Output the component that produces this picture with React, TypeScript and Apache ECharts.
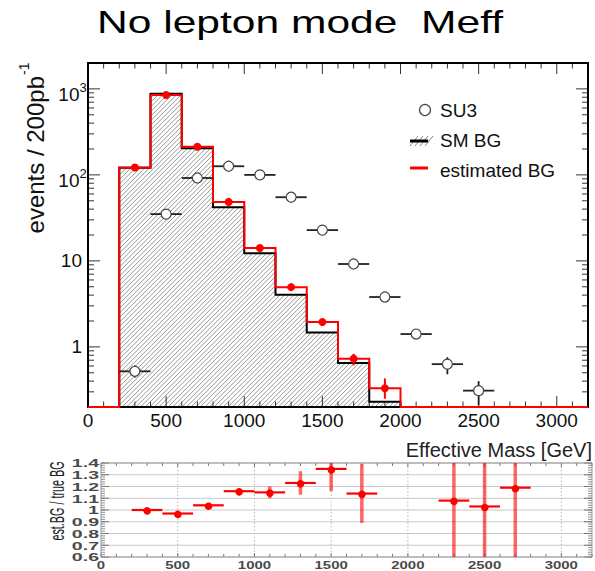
import React, { useEffect, useRef } from "react";
import * as echarts from "echarts";

// ---------------- data ----------------
const binEdges = [200, 400, 600, 800, 1000, 1200, 1400, 1600, 1800, 2000];
const smBG = [121, 880, 204, 42, 12.3, 4.05, 1.47, 0.65, 0.23];
const estBG = [122, 850, 212, 48.5, 14.1, 4.95, 1.95, 0.73, 0.33];
const estBGCenters = [300, 500, 700, 900, 1100, 1300, 1500, 1700, 1900];
const estBGErrLow = [0, 0, 0, 0, 0, 0, 0.05, 0.12, 0.08];
const estBGErrHigh = [0, 0, 0, 0, 0, 0, 0.05, 0.1, 0.1];

const su3X = [300, 500, 700, 900, 1100, 1300, 1500, 1700, 1900, 2100, 2300, 2500];
const su3Y = [0.52, 35, 92, 126, 100, 55, 22.8, 9.2, 3.8, 1.41, 0.63, 0.31];
const su3Low = [0.44, 33, 88, 121, 96, 52, 21.5, 8.5, 3.5, 1.25, 0.48, 0.21];
const su3High = [0.61, 37, 96, 131, 104, 58, 24.1, 9.9, 4.1, 1.57, 0.76, 0.4];
const su3XErr = [100, 100, 100, 100, 100, 100, 100, 100, 100, 100, 100, 100];

const ratioX = [300, 500, 700, 900, 1100, 1300, 1500, 1700, 2300, 2500, 2700];
const ratioY = [1.0, 0.97, 1.04, 1.16, 1.15, 1.23, 1.35, 1.14, 1.08, 1.03, 1.19];
const ratioErr = [0.01, 0.01, 0.012, 0.02, 0.05, 0.1, 0.19, 0.25, 1.2, 1.2, 1.2];
const ratioXErr = [100, 100, 100, 100, 100, 100, 100, 100, 100, 100, 100];

const xTickLabels = [0, 500, 1000, 1500, 2000, 2500, 3000];
const mainYTicks = [1, 10, 100, 1000];
const mainYTickBase = ["1", "10", "10", "10"];
const mainYTickExp = ["", "", "2", "3"];
const ratioYTicks = [0.6, 0.7, 0.8, 0.9, 1.0, 1.1, 1.2, 1.3, 1.4];
const ratioYTickLabels = ["0.6", "0.7", "0.8", "0.9", "1", "1.1", "1.2", "1.3", "1.4"];

const X_MIN = 0;
const X_MAX = 3200;
const MAIN_Y_MIN = 0.2;
const MAIN_Y_MAX = 2000;
const RATIO_Y_MIN = 0.6;
const RATIO_Y_MAX = 1.4;

// minor tick positions
const xMinorTicks: number[] = [];
for (let v = X_MIN; v <= X_MAX; v += 100) xMinorTicks.push(v);
const mainYMinorTicks: number[] = [];
[0.1, 1, 10, 100, 1000].forEach((d) => {
  for (let m = 2; m <= 9; m++) {
    const v = m * d;
    if (v >= MAIN_Y_MIN && v <= MAIN_Y_MAX) mainYMinorTicks.push(v);
  }
});
const ratioYMinorTicks: number[] = [];
for (let k = 30; k <= 70; k++) ratioYMinorTicks.push(k * 0.02);

const FONT = '"Liberation Sans", Arial, Helvetica, sans-serif';

// ---------------- helpers ----------------
const lineEl = (x1: number, y1: number, x2: number, y2: number, stroke: string, lw: number, dash?: number[]) => ({
  type: "line",
  shape: { x1, y1, x2, y2 },
  style: { stroke, lineWidth: lw, lineDash: dash || null },
  silent: true,
});

const textEl = (x: number, y: number, text: string, o: any) => ({
  type: "text",
  x,
  y,
  scaleX: o.scaleX ?? 1,
  scaleY: o.scaleY ?? 1,
  rotation: o.rotation ?? 0,
  silent: true,
  style: {
    text,
    fill: o.fill ?? "#111",
    textFill: o.fill ?? "#111",
    fontSize: o.fontSize,
    fontFamily: FONT,
    fontWeight: o.fontWeight ?? "normal",
    textAlign: o.align ?? "center",
    align: o.align ?? "center",
    textVerticalAlign: o.vAlign ?? "middle",
    verticalAlign: o.vAlign ?? "middle",
  },
});

const isMajorX = (v: number) => xTickLabels.indexOf(v) >= 0;

// ---------------- render functions ----------------
function hatchRender(params: any, api: any) {
  const cs = params.coordSys;
  const B = cs.y + cs.height;
  const children: any[] = [];
  const s = 4.6;
  for (let i = 0; i < smBG.length; i++) {
    const p0 = api.coord([binEdges[i], smBG[i]]);
    const p1 = api.coord([binEdges[i + 1], smBG[i]]);
    const x0 = p0[0];
    const x1 = p1[0];
    const yTop = p0[1];
    const cStart = Math.ceil((x0 + yTop) / s) * s;
    for (let c = cStart; c <= x1 + B; c += s) {
      const lo = Math.max(x0, c - B);
      const hi = Math.min(x1, c - yTop);
      if (hi > lo) children.push(lineEl(lo, c - lo, hi, c - hi, "#8a8a8a", 0.9));
    }
  }
  return { type: "group", children };
}

function stepPoints(values: number[], api: any, B: number, extend: boolean) {
  const pts: number[][] = [];
  if (extend) pts.push([api.coord([X_MIN, MAIN_Y_MIN])[0], B]);
  pts.push([api.coord([binEdges[0], values[0]])[0], B]);
  for (let i = 0; i < values.length; i++) {
    pts.push(api.coord([binEdges[i], values[i]]));
    pts.push(api.coord([binEdges[i + 1], values[i]]));
  }
  pts.push([api.coord([binEdges[values.length], MAIN_Y_MIN])[0], B]);
  if (extend) pts.push([api.coord([X_MAX, MAIN_Y_MIN])[0], B]);
  return pts;
}

function smOutlineRender(params: any, api: any) {
  const cs = params.coordSys;
  const B = cs.y + cs.height;
  return {
    type: "polyline",
    shape: { points: stepPoints(smBG, api, B, false) },
    style: { stroke: "#000", lineWidth: 2, fill: null },
    silent: true,
  };
}

function estOutlineRender(params: any, api: any) {
  const cs = params.coordSys;
  const B = cs.y + cs.height;
  return {
    type: "polyline",
    shape: { points: stepPoints(estBG, api, B, true) },
    style: { stroke: "#ff0000", lineWidth: 2, fill: null },
    silent: true,
  };
}

function su3Render(params: any, api: any) {
  const cs = params.coordSys;
  const B = cs.y + cs.height;
  const children: any[] = [];
  for (let i = 0; i < su3X.length; i++) {
    const c = api.coord([su3X[i], su3Y[i]]);
    const l = api.coord([su3X[i] - su3XErr[i], su3Y[i]]);
    const r = api.coord([su3X[i] + su3XErr[i], su3Y[i]]);
    const lo = Math.min(B, api.coord([su3X[i], su3Low[i]])[1]);
    const hi = api.coord([su3X[i], su3High[i]])[1];
    children.push(lineEl(l[0], c[1], r[0], c[1], "#222", 1.8));
    children.push(lineEl(c[0], lo, c[0], hi, "#222", 1.8));
    children.push({
      type: "circle",
      shape: { cx: c[0], cy: c[1], r: 5 },
      style: { fill: "#fff", stroke: "#444", lineWidth: 1.2 },
      silent: true,
    });
  }
  return { type: "group", children };
}

function estPointsRender(params: any, api: any) {
  const children: any[] = [];
  for (let i = 0; i < estBGCenters.length; i++) {
    const c = api.coord([estBGCenters[i], estBG[i]]);
    if (estBGErrLow[i] > 0 || estBGErrHigh[i] > 0) {
      const lo = api.coord([estBGCenters[i], estBG[i] - estBGErrLow[i]])[1];
      const hi = api.coord([estBGCenters[i], estBG[i] + estBGErrHigh[i]])[1];
      children.push(lineEl(c[0], lo, c[0], hi, "#ff0000", 2));
    }
    children.push({
      type: "circle",
      shape: { cx: c[0], cy: c[1], r: 4 },
      style: { fill: "#ff0000", stroke: null },
      silent: true,
    });
  }
  return { type: "group", children };
}

function mainFrameRender(params: any, api: any) {
  const cs = params.coordSys;
  const L = cs.x;
  const T = cs.y;
  const R = cs.x + cs.width;
  const B = cs.y + cs.height;
  const ch: any[] = [];
  const tc = "#333";
  xMinorTicks.forEach((v) => {
    const px = api.coord([v, MAIN_Y_MIN])[0];
    const len = isMajorX(v) ? 11 : 5.5;
    ch.push(lineEl(px, B, px, B - len, tc, 1));
    ch.push(lineEl(px, T, px, T + len, tc, 1));
  });
  mainYMinorTicks.forEach((v) => {
    const py = api.coord([X_MIN, v])[1];
    ch.push(lineEl(L, py, L + 6, py, tc, 1));
    ch.push(lineEl(R, py, R - 6, py, tc, 1));
  });
  mainYTicks.forEach((v) => {
    const py = api.coord([X_MIN, v])[1];
    ch.push(lineEl(L, py, L + 12, py, tc, 1));
    ch.push(lineEl(R, py, R - 12, py, tc, 1));
  });
  ch.push({
    type: "rect",
    shape: { x: L, y: T, width: R - L, height: B - T },
    style: { fill: null, stroke: "#000", lineWidth: 2 },
    silent: true,
  });
  // labels
  xTickLabels.forEach((v) => {
    const px = api.coord([v, MAIN_Y_MIN])[0];
    ch.push(textEl(px, B + 13, String(v), { fontSize: 19 }));
  });
  mainYTicks.forEach((v, i) => {
    const py = api.coord([X_MIN, v])[1];
    if (mainYTickExp[i]) {
      ch.push(textEl(L - 8.5, py + 6, mainYTickBase[i], { fontSize: 19, align: "right" }));
      ch.push(textEl(L - 8.5, py - 1, mainYTickExp[i], { fontSize: 13, align: "left" }));
    } else {
      ch.push(textEl(L - 6, py, mainYTickBase[i], { fontSize: 19, align: "right" }));
    }
  });
  return { type: "group", children: ch };
}

function ratioGridRender(params: any, api: any) {
  const cs = params.coordSys;
  const L = cs.x;
  const T = cs.y;
  const R = cs.x + cs.width;
  const B = cs.y + cs.height;
  const ch: any[] = [];
  ratioYTicks.forEach((v) => {
    const py = api.coord([X_MIN, v])[1];
    ch.push(lineEl(L, py, R, py, "#c8c8c8", 1));
  });
  xTickLabels.forEach((v) => {
    if (v === X_MIN) return;
    const px = api.coord([v, RATIO_Y_MIN])[0];
    ch.push(lineEl(px, T, px, B, "#b8b8b8", 1, [1.5, 2]));
  });
  return { type: "group", children: ch };
}

function ratioFrameRender(params: any, api: any) {
  const cs = params.coordSys;
  const L = cs.x;
  const T = cs.y;
  const R = cs.x + cs.width;
  const B = cs.y + cs.height;
  const ch: any[] = [];
  const tc = "#777";
  xMinorTicks.forEach((v) => {
    const px = api.coord([v, RATIO_Y_MIN])[0];
    const len = isMajorX(v) ? 4 : 3;
    ch.push(lineEl(px, B, px, B - len, tc, 1));
    ch.push(lineEl(px, T, px, T + len, tc, 1));
  });
  ratioYMinorTicks.forEach((v) => {
    const py = api.coord([X_MIN, v])[1];
    ch.push(lineEl(L, py, L + 4, py, tc, 0.8));
    ch.push(lineEl(R, py, R - 4, py, tc, 0.8));
  });
  ratioYTicks.forEach((v) => {
    const py = api.coord([X_MIN, v])[1];
    ch.push(lineEl(L, py, L + 8, py, tc, 1));
    ch.push(lineEl(R, py, R - 8, py, tc, 1));
  });
  ch.push({
    type: "rect",
    shape: { x: L, y: T, width: R - L, height: B - T },
    style: { fill: null, stroke: "#999", lineWidth: 1 },
    silent: true,
  });
  xTickLabels.forEach((v) => {
    const px = api.coord([v, RATIO_Y_MIN])[0];
    ch.push(textEl(px, B + 8.5, String(v), { fontSize: 11.5, fontWeight: "bold", scaleX: 1.3, fill: "#4a4a4a" }));
  });
  ratioYTicks.forEach((v, i) => {
    const py = api.coord([X_MIN, v])[1];
    ch.push(
      textEl(L - 2, py, ratioYTickLabels[i], {
        fontSize: 11.5,
        fontWeight: "bold",
        scaleX: 1.7,
        align: "right",
        fill: "#4a4a4a",
      })
    );
  });
  return { type: "group", children: ch };
}

function ratioPointsRender(params: any, api: any) {
  const ch: any[] = [];
  const clampY = (v: number) => Math.max(RATIO_Y_MIN, Math.min(RATIO_Y_MAX, v));
  for (let i = 0; i < ratioX.length; i++) {
    const c = api.coord([ratioX[i], ratioY[i]]);
    const l = api.coord([ratioX[i] - ratioXErr[i], ratioY[i]]);
    const r = api.coord([ratioX[i] + ratioXErr[i], ratioY[i]]);
    const lo = api.coord([ratioX[i], clampY(ratioY[i] - ratioErr[i])])[1];
    const hi = api.coord([ratioX[i], clampY(ratioY[i] + ratioErr[i])])[1];
    ch.push(lineEl(c[0], lo, c[0], hi, "rgba(255,0,0,0.6)", 3.5));
    ch.push(lineEl(l[0], c[1], r[0], c[1], "#ff0000", 2.2));
    ch.push({
      type: "circle",
      shape: { cx: c[0], cy: c[1], r: 3.8 },
      style: { fill: "#ff0000", stroke: null },
      silent: true,
    });
  }
  return { type: "group", children: ch };
}

// ---------------- component ----------------
export default function App() {
  const ref = useRef<HTMLDivElement>(null);

  useEffect(() => {
    if (!ref.current) return;
    const chart = echarts.init(ref.current, null, { renderer: "svg" });

    const legendHatch: any[] = [];
    for (let k = 0; k < 4; k++) {
      legendHatch.push({
        type: "line",
        shape: { x1: 410 + k * 5, y1: 146, x2: 418 + k * 5, y2: 136 },
        style: { stroke: "#888", lineWidth: 1 },
      });
    }

    const mk = (name: string, xi: number, render: any, z: number) => ({
      type: "custom",
      name,
      coordinateSystem: "cartesian2d",
      xAxisIndex: xi,
      yAxisIndex: xi,
      renderItem: render,
      data: [[1000, 1]],
      silent: true,
      z,
    });

    const txt = (x: number, y: number, text: string, fontSize: number, align: string, extra: any = {}) => ({
      type: "text",
      x,
      y,
      ...extra,
      style: {
        text,
        fontSize,
        fontFamily: FONT,
        fill: extra.fill ?? "#111",
        textAlign: align,
        textVerticalAlign: "middle",
        align,
        verticalAlign: "middle",
      },
    });

    const option: any = {
      animation: false,
      backgroundColor: "#ffffff",
      grid: [
        { left: 88, top: 63, width: 500, height: 344 },
        { left: 101, top: 463, width: 491, height: 94 },
      ],
      xAxis: [
        { gridIndex: 0, type: "value", min: X_MIN, max: X_MAX, show: false },
        { gridIndex: 1, type: "value", min: X_MIN, max: X_MAX, show: false },
      ],
      yAxis: [
        { gridIndex: 0, type: "log", logBase: 10, min: MAIN_Y_MIN, max: MAIN_Y_MAX, show: false },
        { gridIndex: 1, type: "value", min: RATIO_Y_MIN, max: RATIO_Y_MAX, show: false },
      ],
      series: [
        mk("ratioGrid", 1, ratioGridRender, 1),
        mk("hatch", 0, hatchRender, 2),
        mk("mainFrame", 0, mainFrameRender, 3),
        mk("SM BG", 0, smOutlineRender, 4),
        mk("estimated BG", 0, estOutlineRender, 5),
        mk("SU3", 0, su3Render, 6),
        mk("estimated BG points", 0, estPointsRender, 7),
        mk("ratioFrame", 1, ratioFrameRender, 8),
        mk("ratio", 1, ratioPointsRender, 9),
      ],
      graphic: [
        txt(300, 22, "No lepton mode  Meff", 32, "center", { scaleX: 1.33, fill: "#000" }),
        txt(35, 76, "events / 200pb", 24, "right", { rotation: Math.PI / 2 }),
        txt(24, 75, "-1", 14, "left", { rotation: Math.PI / 2 }),
        txt(592, 450, "Effective Mass [GeV]", 20, "right", { fill: "#222" }),
        txt(57, 501, "est.BG / true BG", 15, "center", {
          rotation: Math.PI / 2,
          scaleX: 0.72,
          scaleY: 1.4,
          fill: "#222",
        }),
        // legend
        {
          type: "circle",
          shape: { cx: 425, cy: 110, r: 5.5 },
          style: { fill: "#fff", stroke: "#444", lineWidth: 1.2 },
        },
        txt(440, 110, "SU3", 19, "left"),
        ...legendHatch,
        {
          type: "line",
          shape: { x1: 410, y1: 141, x2: 428, y2: 141 },
          style: { stroke: "#000", lineWidth: 3 },
        },
        txt(440, 140, "SM BG", 19, "left"),
        {
          type: "line",
          shape: { x1: 410, y1: 168, x2: 428, y2: 168 },
          style: { stroke: "#ff0000", lineWidth: 3 },
        },
        txt(440, 170, "estimated BG", 19, "left"),
      ],
    };

    chart.setOption(option);
    return () => chart.dispose();
  }, []);

  return (
    <div
      ref={ref}
      style={{ position: "fixed", left: 0, top: 0, width: 595, height: 571, background: "#fff" }}
    />
  );
}
